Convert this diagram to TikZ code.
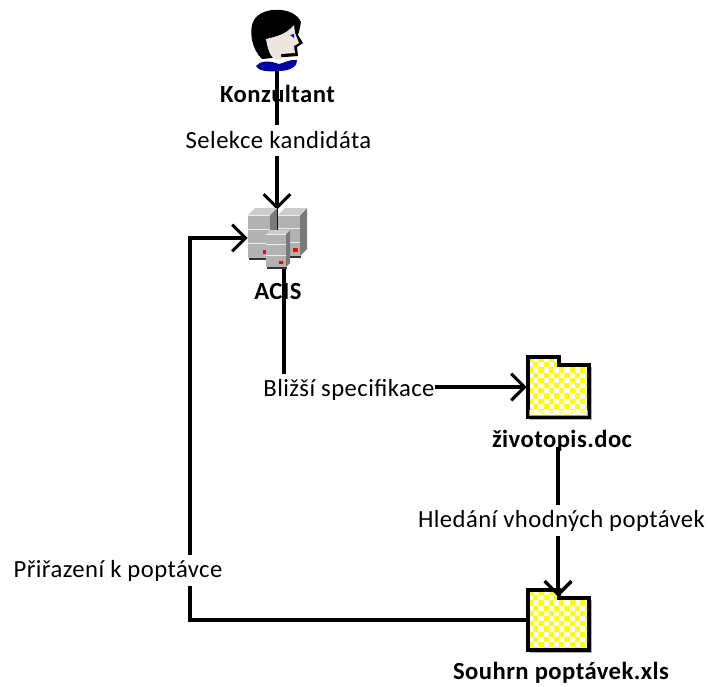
\documentclass[tikz,border=0pt]{standalone}
\usepackage{fontspec}
\setmainfont[LetterSpace=1.8]{Carlito}
\usetikzlibrary{arrows.meta}
\definecolor{chk}{RGB}{255,255,0}
\definecolor{facecol}{RGB}{236,230,222}
\newcommand{\foldershape}[3]{% x, top, bottom
  \fill[white] (#1,#2) -- (#1+31,#2) -- (#1+31,#2+8) -- (#1+61,#2+8) -- (#1+61,#3) -- (#1,#3) -- cycle;
  \begin{scope}
    \clip (#1,#2) -- (#1+31,#2) -- (#1+31,#2+8) -- (#1+61,#2+8) -- (#1+61,#3) -- (#1,#3) -- cycle;
    \foreach \i in {0,...,12}{\foreach \j in {0,...,13}{
      \pgfmathparse{int(mod(\i+\j,2))}
      \ifnum\pgfmathresult=0
      \fill[chk] (#1+\i*5.2,#2+\j*5.2) rectangle ++(5.2,5.2);
      \fi}}
  \end{scope}
  \draw[gray!60,line width=1.2pt] (#1+2,#3+2.6) -- (#1+62.8,#3+2.6) -- (#1+62.8,#2+10);
  \draw[foldline] (#1,#2) -- (#1+31,#2) -- (#1+31,#2+8) -- (#1+61,#2+8) -- (#1+61,#3) -- (#1,#3) -- cycle;
}
% front x, front top y, width, height, depth
\newcommand{\serverunit}[5]{%
  \fill[black!80] (#1+1,#2+#4) rectangle (#1+#3+1,#2+#4+1.5);
  \fill[gray!95!black] (#1+#3,#2) -- (#1+#3+#5,#2-#5) -- (#1+#3+#5,#2+#4-#5) -- (#1+#3,#2+#4) -- cycle;
  \fill[gray!40] (#1,#2) -- (#1+#5,#2-#5) -- (#1+#3+#5,#2-#5) -- (#1+#3,#2) -- cycle;
  \fill[gray!60] (#1,#2) rectangle (#1+#3,#2+#4);
  \draw[gray!15,line width=.7pt] (#1,#2+#4*.33) -- ++(#3,0) (#1,#2+#4*.66) -- ++(#3,0) (#1,#2) -- ++(#3,0);
}
\begin{document}
\begin{tikzpicture}[x=0.75pt,y=-0.75pt,
  conn/.style={line width=2.3pt,black},
  head/.style={-{Straight Barb[length=10pt,width=20pt,line width=2.3pt]}},
  foldline/.style={line width=2.4pt,black,line join=miter},
  elabel/.style={fill=white,inner xsep=0pt,inner ysep=0pt,minimum height=23.5pt,font=\fontsize{18.5}{20}\selectfont},
  nlabel/.style={inner sep=0pt,font=\fontsize{18.5}{20}\selectfont\bfseries},
  anchorpt/.style={inner sep=0pt,minimum size=0pt}]
\useasboundingbox (0,0) rectangle (709,686);
% anchors of the icons
\node[anchorpt] (person) at (277,70) {};
\node[anchorpt] (acistop) at (277,210) {};
\node[anchorpt] (acisleft) at (248,238) {};
\node[anchorpt] (acisbot) at (284,262) {};
\node[anchorpt] (cvleft) at (527,387) {};
\node[anchorpt] (cvbot) at (558,447) {};
\node[anchorpt] (xlstop) at (558,597) {};
\node[anchorpt] (xlsleft) at (527,620) {};
\coordinate (j1) at (284,387);
\coordinate (c1) at (190,620);
\coordinate (c2) at (190,238);
% name labels below the connectors
\node[nlabel] (konz) at (277.5,94) {Konzultant};
\node[nlabel] (acis) at (278,291) {ACIS};
\node[nlabel] (cv) at (562,441) {životopis.doc};
\node[nlabel] (xls) at (561,673) {Souhrn poptávek.xls};
% connectors
\draw[conn,head] (person.south) -- (acistop.north);
\draw[conn] (acisbot.south) -- (j1);
\draw[conn,head] (j1) -- (cvleft.west);
\draw[conn,head] (cvbot.south) -- (xlstop.north);
\draw[conn,head] (xlsleft.west) -- (c1) -- (c2) -- (acisleft.west);
% labels on connectors
\node[elabel] (l1) at (278.5,140.5) {Selekce kandidáta};
\node[elabel] (l2) at (349,389.5) {Bližší specifikace};
\node[elabel] (l3) at (561.5,520.5) {Hledání vhodných poptávek};
\node[elabel] (l4) at (118,570.5) {Přiřazení k poptávce};
% person
\fill[black] (262,59) .. controls (252,50) and (248,30) .. (254,20) .. controls (262,6) and (294,6) .. (301,22) .. controls (300,28) and (299,32) .. (298,35) -- (303,43) -- (297,47) -- (298,56) -- (272,58) -- cycle;
\fill[facecol] (266,39) .. controls (274,37) and (286,35) .. (294,25) -- (295,33) -- (299,43) -- (294,46) -- (295,53) -- (281,54) -- (281,60) .. controls (272,62) and (268,52) .. (266,39) -- cycle;
\fill[blue] (290,35) -- (294,34) -- (294,38) -- cycle;
\fill[blue!65!black] (256,66) .. controls (260,61) and (268,60) .. (279,64) .. controls (284,63) and (290,59) .. (297,60) .. controls (298,66) and (290,71) .. (279,71) .. controls (268,72) and (258,71) .. (256,66) -- cycle;
% servers
\draw[black,line width=2pt] (277,206) -- (277,232);
\serverunit{278}{215}{22}{41}{7}
\fill[red] (293,248) rectangle (298,252);
\serverunit{248}{215}{22}{43}{7}
\fill[red] (263,250) rectangle (266,254);
\serverunit{266}{234}{20}{33}{4}
\fill[red] (279,261) rectangle (283,264);
% folders
\foldershape{528}{357}{417}
\fill[white,opacity=.6] (529,410) rectangle (588,415.5);
\foldershape{528}{590}{650}
% arrow tip over the second folder
\draw[conn,head] (558,575) -- (xlstop.north);
\end{tikzpicture}
\end{document}
